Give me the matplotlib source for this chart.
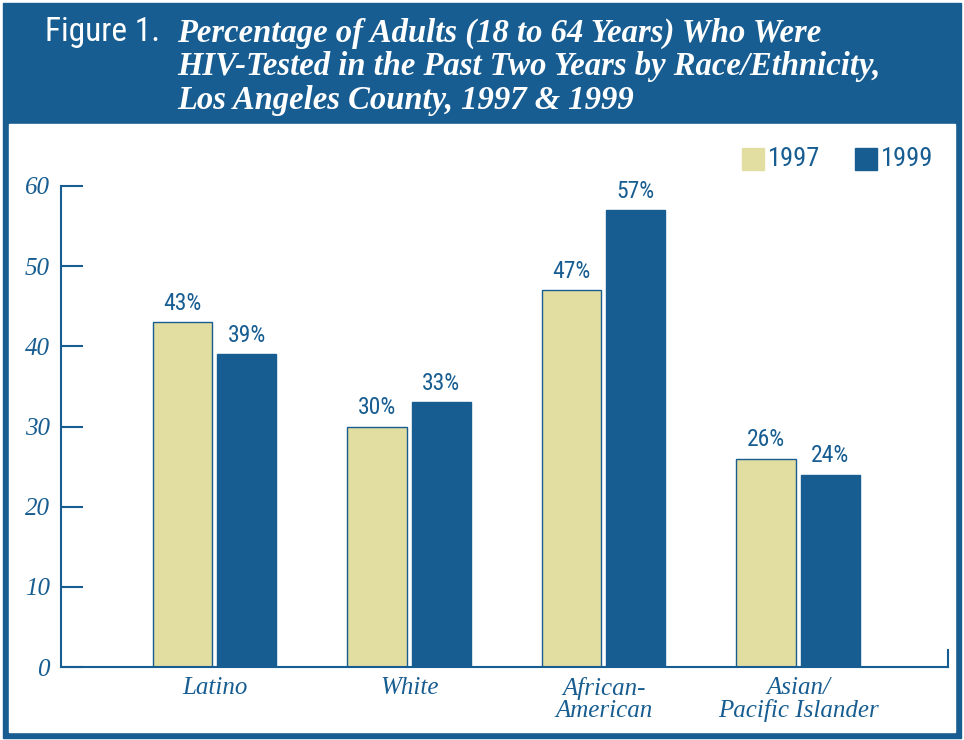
import numpy as np
import matplotlib.pyplot as plt
from matplotlib.patches import Rectangle

# data
groups = ['Latino', 'White', 'African-\nAmerican', 'Asian/\nPacific Islander']
years = ['1997', '1999']
vals_1997 = [43, 30, 47, 26]
vals_1999 = [39, 33, 57, 24]
yticks = [0, 10, 20, 30, 40, 50, 60]

blue = '#175d91'
tan = '#e2dda0'
W, H = 964, 740
narrow = ['Roboto Condensed', 'DejaVu Sans']

fig = plt.figure(figsize=(W / 100, H / 100), dpi=100)

def px_rect(x0, y0, x1, y1, color, z=-10):
    # rectangle in pixel coords measured from the top-left
    fig.patches.append(Rectangle((x0 / W, 1 - y1 / H), (x1 - x0) / W, (y1 - y0) / H,
                                 transform=fig.transFigure, color=color, zorder=z))

# frame and header
px_rect(3, 3, 961, 738, blue)
px_rect(9, 124, 955, 732, 'white', z=-9)

# title
title_font = dict(family='Liberation Serif', style='italic', weight='bold', color='white', size=23.5)
fig.text(45 / W, 1 - 32 / H, 'Figure 1.', family=narrow, color='white', size=24,
         va='center', ha='left')
fig.text(177 / W, 1 - 33 / H, 'Percentage of Adults (18 to 64 Years) Who Were', va='center', **title_font)
fig.text(177 / W, 1 - 66 / H, 'HIV-Tested in the Past Two Years by Race/Ethnicity,', va='center', **title_font)
fig.text(177 / W, 1 - 100 / H, 'Los Angeles County, 1997 & 1999', va='center', **title_font)

ax = fig.add_axes([61 / W, 73 / H, 887 / W, 481 / H])
ax.patch.set_alpha(0)
x = np.arange(len(groups))
bw = 0.305
off = 0.165
b1 = ax.bar(x - off, vals_1997, bw, color=tan, edgecolor=blue, linewidth=1.0, zorder=2)
b2 = ax.bar(x + off, vals_1999, bw, color=blue, edgecolor=blue, linewidth=1.0, zorder=2)

for bars, vals in [(b1, vals_1997), (b2, vals_1999)]:
    for r, v in zip(bars, vals):
        ax.text(r.get_x() + r.get_width() / 2, v + 0.9, f'{v}%', ha='center', va='bottom',
                color=blue, size=17, family=narrow)

ax.set_xlim(-0.79, 3.77)
ax.set_ylim(0, 60)
ax.set_yticks(yticks)
ax.set_yticklabels([str(t) for t in yticks], family='Liberation Serif', style='italic',
                   size=18, color=blue)
ax.tick_params(axis='y', direction='in', length=16, width=1.5, color=blue, pad=8)
ax.set_xticks(x)
ax.set_xticklabels(groups, family='Liberation Serif', style='italic', size=18, color=blue,
                   linespacing=1.0, va='top')
ax.tick_params(axis='x', length=0, pad=7)
ax.spines['top'].set_visible(False)
for s in ['left', 'bottom', 'right']:
    ax.spines[s].set_color(blue)
    ax.spines[s].set_linewidth(1.5)
ax.spines['right'].set_bounds(0, 2.1)

# legend
for lx, col, lab in [(742, tan, years[0]), (855, blue, years[1])]:
    px_rect(lx, 148, lx + 22, 170, col, z=-8)
    fig.text((lx + 26) / W, 1 - 159 / H, lab, color=blue, size=19, va='center', ha='left',
             family=narrow)

fig.savefig('out.png', dpi=100)
